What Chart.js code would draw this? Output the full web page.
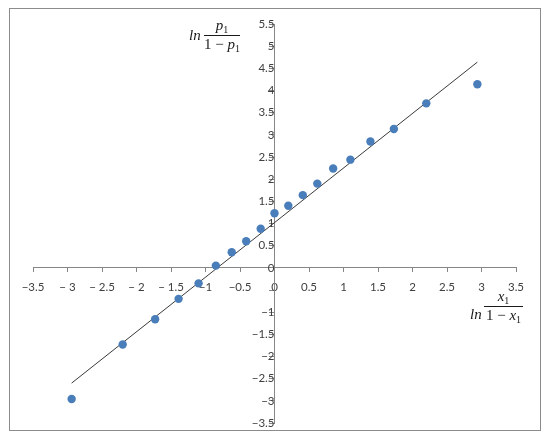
<!DOCTYPE html>
<html>
<head>
<meta charset="utf-8">
<script src="https://cdn.jsdelivr.net/npm/chart.js@4/dist/chart.umd.min.js"></script>
<style>
  html, body { margin: 0; padding: 0; background: #ffffff; }
  #wrap { width: 550px; height: 441px; position: relative; }
</style>
</head>
<body>
<div id="wrap"><canvas id="c" width="550" height="441"></canvas></div>
<script>
// ---- data ----
const xValues = [-2.94, -2.20, -1.73, -1.39, -1.10, -0.85, -0.62, -0.41, -0.20, 0.00, 0.20, 0.41, 0.62, 0.85, 1.10, 1.39, 1.73, 2.20, 2.94];
const yValues = [-2.96, -1.73, -1.16, -0.70, -0.35, 0.05, 0.35, 0.60, 0.88, 1.23, 1.40, 1.64, 1.90, 2.24, 2.44, 2.85, 3.13, 3.71, 4.14];
const trendX = [-2.94, 2.94];
const trendY = [-2.60, 4.64];
const xTickLabels = ['\u22123.5', '\u2212 3', '\u2212 2.5', '\u2212 2', '\u2212 1.5', '\u22121', '\u22120.5', '0', '0.5', '1', '1.5', '2', '2.5', '3', '3.5'];
const yTickLabels = ['\u22123.5', '\u22123', '\u22122.5', '\u22122', '\u22121.5', '\u22121', '', '0', '0.5', '1', '1.5', '2', '2.5', '3', '3.5', '4', '4.5', '5', '5.5'];
const xMin = -3.5, xMax = 3.5, yMin = -3.5, yMax = 5.5, step = 0.5;

const points = xValues.map((x, i) => ({ x: x, y: yValues[i] }));
const trend = trendX.map((x, i) => ({ x: x, y: trendY[i] }));

const axisColor = '#868686';
const labelColor = '#404040';

const FONTS = {
  it: 'italic 15px "Liberation Serif", "DejaVu Serif", serif',
  up: '15px "Liberation Serif", "DejaVu Serif", serif',
  sub: '10px "Liberation Serif", "DejaVu Serif", serif'
};
function segWidth(ctx, segs) {
  let w = 0;
  segs.forEach(s => { ctx.font = FONTS[s[1]]; w += ctx.measureText(s[0]).width; });
  return w;
}
function drawSegs(ctx, segs, left, baseY) {
  let x = left;
  segs.forEach(s => {
    ctx.font = FONTS[s[1]];
    ctx.fillText(s[0], x, baseY + (s[1] === 'sub' ? 3 : 0));
    x += ctx.measureText(s[0]).width;
  });
}
function drawFraction(ctx, xLn, yLn, num, den, barX1, barX2, barY) {
  ctx.save();
  ctx.fillStyle = '#1a1a1a';
  ctx.strokeStyle = '#1a1a1a';
  ctx.textBaseline = 'alphabetic';
  ctx.textAlign = 'left';
  ctx.font = FONTS.it;
  ctx.fillText('ln', xLn, yLn);
  const cx = (barX1 + barX2) / 2;
  drawSegs(ctx, num, cx - segWidth(ctx, num) / 2, barY - 5);
  drawSegs(ctx, den, cx - segWidth(ctx, den) / 2, barY + 14);
  ctx.lineWidth = 1;
  ctx.beginPath();
  ctx.moveTo(barX1, barY + 0.5);
  ctx.lineTo(barX2, barY + 0.5);
  ctx.stroke();
  ctx.restore();
}

const decor = {
  id: 'decor',
  beforeDraw(chart) {
    const ctx = chart.ctx;
    ctx.save();
    ctx.fillStyle = '#ffffff';
    ctx.fillRect(0, 0, chart.width, chart.height);
    ctx.restore();
  },
  afterDraw(chart) {
    const ctx = chart.ctx;
    ctx.save();
    ctx.strokeStyle = '#8c8c8c';
    ctx.lineWidth = 1;
    ctx.strokeRect(9.5, 8.5, 531, 422);
    ctx.restore();
    drawFraction(ctx, 189, 40,
      [['p', 'it'], ['1', 'sub']],
      [['1 \u2212 ', 'up'], ['p', 'it'], ['1', 'sub']],
      204, 240, 35);
    drawFraction(ctx, 470, 319,
      [['x', 'it'], ['1', 'sub']],
      [['1 \u2212 ', 'up'], ['x', 'it'], ['1', 'sub']],
      484, 523, 306);
  }
};

new Chart(document.getElementById('c'), {
  data: {
    datasets: [
      {
        type: 'scatter',
        data: points,
        backgroundColor: '#4a7ebb',
        borderColor: '#4a7ebb',
        pointRadius: 4.2,
        pointHoverRadius: 4.2,
        borderWidth: 0,
        order: 1
      },
      {
        type: 'line',
        data: trend,
        borderColor: '#3a3a3a',
        borderWidth: 1,
        pointRadius: 0,
        fill: false,
        order: 2
      }
    ]
  },
  options: {
    responsive: false,
    animation: false,
    events: [],
    layout: { padding: { left: 33, right: 34, top: 24, bottom: 18 } },
    plugins: { legend: { display: false }, tooltip: { enabled: false }, title: { display: false } },
    scales: {
      x: {
        type: 'linear',
        min: xMin, max: xMax,
        position: { y: 0 },
        border: { color: axisColor, width: 1 },
        grid: { drawOnChartArea: false, drawTicks: true, tickLength: 4, color: axisColor },
        ticks: {
          stepSize: step,
          autoSkip: false,
          maxRotation: 0,
          padding: 9,
          color: labelColor,
          font: { family: 'Lato, "Open Sans", sans-serif', size: 11.5 },
          callback: (v, i) => xTickLabels[i]
        }
      },
      y: {
        type: 'linear',
        min: yMin, max: yMax,
        position: { x: 0 },
        border: { color: axisColor, width: 1 },
        grid: { drawOnChartArea: false, drawTicks: true, tickLength: 5, color: axisColor },
        ticks: {
          stepSize: step,
          autoSkip: false,
          padding: 6,
          color: labelColor,
          font: { family: 'Lato, "Open Sans", sans-serif', size: 11.5 },
          callback: (v, i) => yTickLabels[i]
        }
      }
    }
  },
  plugins: [decor]
});
</script>
</body>
</html>
